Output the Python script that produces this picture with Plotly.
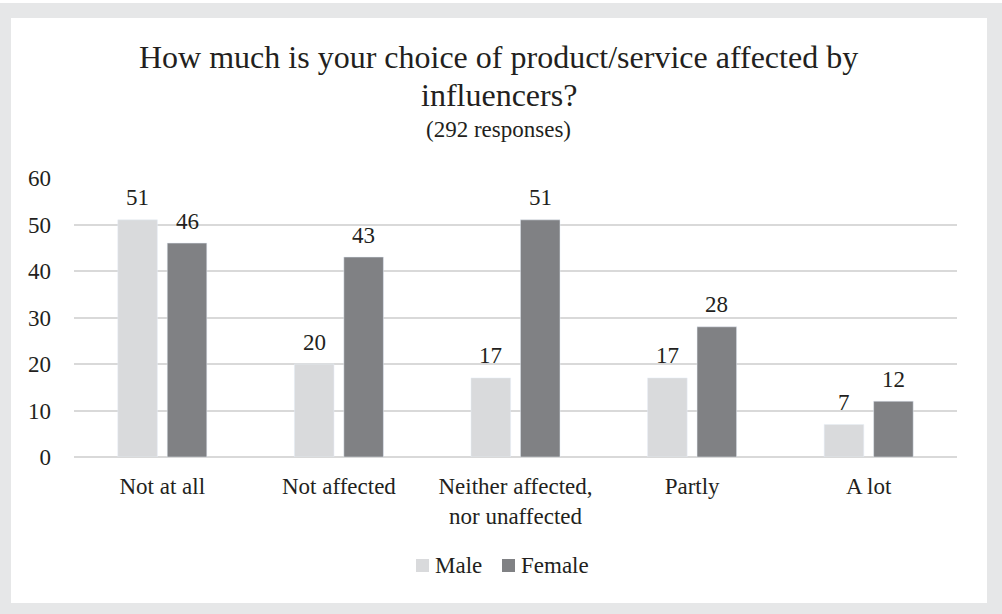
import plotly.graph_objects as go

categories = ["Not at all", "Not affected", "Neither affected,<br>nor unaffected", "Partly", "A lot"]
male = [51, 20, 17, 17, 7]
female = [46, 43, 51, 28, 12]
series_names = ["Male", "Female"]

W, H = 1002, 614
L, R, T, B = 74, 45, 178, 157
pw, ph = W - L - R, H - T - B

def px_x(x):
    return (x - L) / pw

def px_y(y):
    return (H - B - y) / ph

FONT = "Liberation Serif"
TXT = "#231f20"
C_MALE, C_FEMALE = "#d9dadc", "#808184"
BARGAP, GROUPGAP = 0.44, 0.2

fig = go.Figure()
fig.add_trace(go.Bar(name=series_names[0], x=categories, y=male, marker_color=C_MALE))
fig.add_trace(go.Bar(name=series_names[1], x=categories, y=female, marker_color=C_FEMALE))

# value labels above each bar
slot = pw / len(categories) * (1 - BARGAP) / 2
for vals, sh in ((male, -slot / 2), (female, slot / 2)):
    for c, v in zip(categories, vals):
        fig.add_annotation(x=c, y=v, text=str(v), xref="x", yref="y", showarrow=False,
                           xshift=sh, yshift=22, yanchor="middle",
                           font=dict(family=FONT, size=23, color=TXT))

# white card on the grey page
fig.add_shape(type="rect", xref="paper", yref="paper", layer="below",
              x0=px_x(11), x1=px_x(987), y0=px_y(603), y1=px_y(18),
              fillcolor="white", line_width=0)
fig.add_shape(type="rect", xref="paper", yref="paper", layer="below",
              x0=px_x(0), x1=px_x(W), y0=px_y(3), y1=px_y(0),
              fillcolor="white", line_width=0)

# title block
cx = 0.5 * (px_x(11) + px_x(987))
titles = [
    ("How much is your choice of product/service affected by", 57, 32),
    ("influencers?", 95, 32),
    ("(292 responses)", 129, 23),
]
for txt, yc, sz in titles:
    fig.add_annotation(text=txt, xref="paper", yref="paper", x=cx,
                       y=px_y(yc), xanchor="center", yanchor="middle", showarrow=False,
                       font=dict(family=FONT, size=sz, color=TXT))

# legend: colour swatch + name
legend_items = [(series_names[0], C_MALE, 416), (series_names[1], C_FEMALE, 502)]
for name, col, x0 in legend_items:
    fig.add_shape(type="rect", xref="paper", yref="paper",
                  x0=px_x(x0), x1=px_x(x0 + 13), y0=px_y(572), y1=px_y(559),
                  fillcolor=col, line_width=0)
    fig.add_annotation(text=name, xref="paper", yref="paper", x=px_x(x0 + 17), y=px_y(565),
                       xanchor="left", yanchor="middle", showarrow=False,
                       font=dict(family=FONT, size=23, color=TXT))

fig.update_layout(
    width=W, height=H,
    margin=dict(l=L, r=R, t=T, b=B),
    paper_bgcolor="#e6e7e8",
    plot_bgcolor="rgba(0,0,0,0)",
    barmode="group", bargap=BARGAP, bargroupgap=GROUPGAP,
    font=dict(family=FONT, size=23, color=TXT),
    showlegend=False,
    yaxis=dict(range=[0, 60], dtick=10, showgrid=True, gridcolor="#d9d9d9", gridwidth=1.5,
               zeroline=True, zerolinecolor="#d9d9d9", zerolinewidth=1.5, showline=False,
               ticks="", ticklabelstandoff=22, tickfont=dict(size=23, color=TXT, family=FONT)),
    xaxis=dict(showline=False, ticks="", ticklabelstandoff=13,
               tickfont=dict(size=23, color=TXT, family=FONT)),
)

fig.write_html("out.html")
